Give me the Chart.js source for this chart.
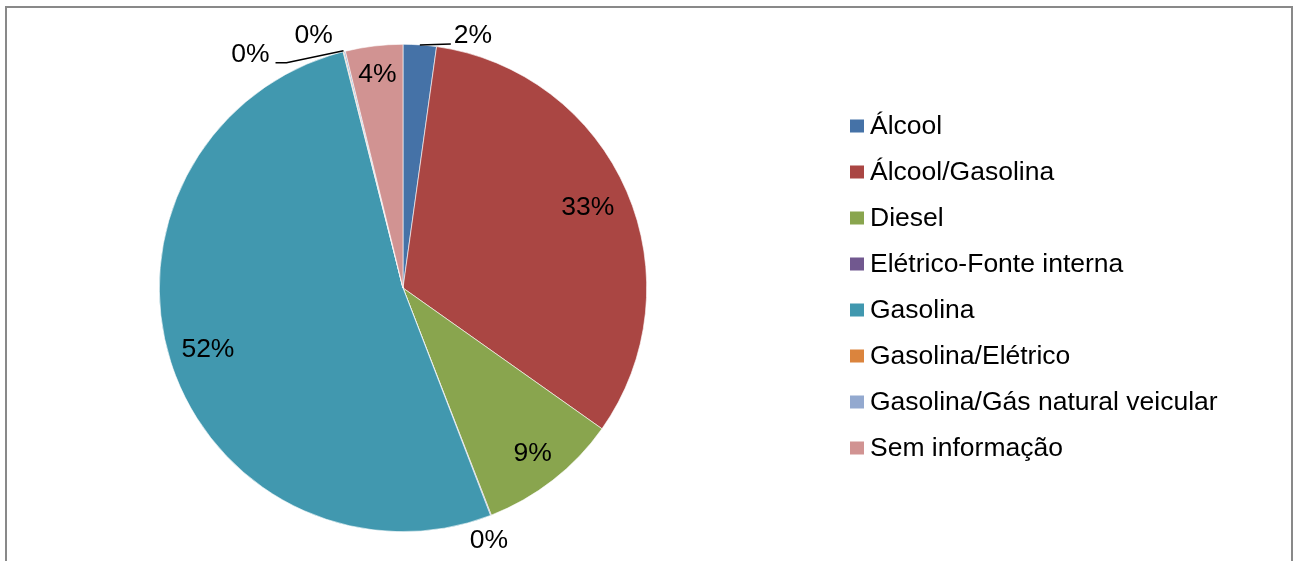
<!DOCTYPE html>
<html>
<head>
<meta charset="utf-8">
<script src="https://cdn.jsdelivr.net/npm/chart.js@4/dist/chart.umd.min.js"></script>
<style>
  html, body { margin: 0; padding: 0; background: #ffffff; }
  canvas { display: block; }
</style>
</head>
<body>
<canvas id="c" width="1293" height="561" style="width:1293px;height:561px"></canvas>
<script>
// ---- data ----
const categories = [
  "Álcool",
  "Álcool/Gasolina",
  "Diesel",
  "Elétrico-Fonte interna",
  "Gasolina",
  "Gasolina/Elétrico",
  "Gasolina/Gás natural veicular",
  "Sem informação"
];
const shares = [2.2, 32.6, 9.3, 0.05, 51.9, 0.05, 0.1, 3.8];
const colors = ["#4572A7", "#AA4643", "#89A54E", "#71588F", "#4198AF", "#DB843D", "#93A9CF", "#D19392"];

const FONT = '26.5px "Liberation Sans", Arial, sans-serif';

// label placement per slice (relative to the slice's mid-angle)
const labelPlacement = [
  { outside: true, dx: 53, dy: -9, leader: [[0, 0], [31, -1]] },
  { f: 0.826 },
  { f: 0.865 },
  { outside: true, dx: -2, dy: 25 },
  { f: 0.84 },
  { outside: true, dx: -93, dy: 3, leader: [[0, -1], [-57, 11], [-68, 11]] },
  { outside: true, dx: -31, dy: -16 },
  { f: 0.88 }
];

const framePlugin = {
  id: 'frame',
  beforeDraw(chart) {
    const ctx = chart.ctx;
    ctx.save();
    ctx.fillStyle = '#ffffff';
    ctx.fillRect(0, 0, chart.width, chart.height);
    ctx.strokeStyle = '#898989';
    ctx.lineWidth = 2;
    ctx.strokeRect(6, 7, 1286, 620);
    ctx.restore();
  }
};

const labelPlugin = {
  id: 'pieLabels',
  afterDatasetsDraw(chart) {
    const ctx = chart.ctx;
    const meta = chart.getDatasetMeta(0);
    const data = chart.data.datasets[0].data;
    const total = data.reduce((a, b) => a + b, 0);
    ctx.save();
    ctx.font = FONT;
    ctx.fillStyle = '#000000';
    ctx.textAlign = 'center';
    ctx.textBaseline = 'middle';
    meta.data.forEach((arc, i) => {
      const p = arc.getProps(['x', 'y', 'startAngle', 'endAngle', 'outerRadius'], true);
      const mid = (p.startAngle + p.endAngle) / 2;
      const pl = labelPlacement[i];
      const txt = Math.round(data[i] / total * 100) + '%';
      let lx, ly;
      if (pl.outside) {
        const ex = p.x + Math.cos(mid) * p.outerRadius;
        const ey = p.y + Math.sin(mid) * p.outerRadius;
        if (pl.leader) {
          ctx.strokeStyle = '#000000';
          ctx.lineWidth = 1.5;
          ctx.beginPath();
          pl.leader.forEach((pt, k) => {
            if (k === 0) ctx.moveTo(ex + pt[0], ey + pt[1]);
            else ctx.lineTo(ex + pt[0], ey + pt[1]);
          });
          ctx.stroke();
        }
        lx = ex + pl.dx;
        ly = ey + pl.dy;
      } else {
        lx = p.x + Math.cos(mid) * p.outerRadius * pl.f;
        ly = p.y + Math.sin(mid) * p.outerRadius * pl.f;
      }
      ctx.fillText(txt, lx, ly);
    });
    ctx.restore();
  }
};

const legendPlugin = {
  id: 'sideLegend',
  afterDraw(chart) {
    const ctx = chart.ctx;
    const labels = chart.data.labels;
    const bg = chart.data.datasets[0].backgroundColor;
    ctx.save();
    ctx.font = FONT;
    ctx.textAlign = 'left';
    ctx.textBaseline = 'alphabetic';
    labels.forEach((lab, i) => {
      const cy = 126 + i * 46;
      ctx.fillStyle = bg[i];
      ctx.fillRect(850, cy - 6.5, 14, 13);
      ctx.fillStyle = '#000000';
      ctx.fillText(lab, 870, cy + 8);
    });
    ctx.restore();
  }
};

new Chart(document.getElementById('c'), {
  type: 'pie',
  data: {
    labels: categories,
    datasets: [{
      data: shares,
      backgroundColor: colors,
      borderColor: '#ffffff',
      borderWidth: 0.6
    }]
  },
  options: {
    responsive: false,
    animation: false,
    devicePixelRatio: 1,
    layout: { padding: { left: 159, right: 646, top: 44, bottom: 29 } },
    plugins: {
      legend: { display: false },
      tooltip: { enabled: false },
      title: { display: false }
    }
  },
  plugins: [framePlugin, labelPlugin, legendPlugin]
});
</script>
</body>
</html>
